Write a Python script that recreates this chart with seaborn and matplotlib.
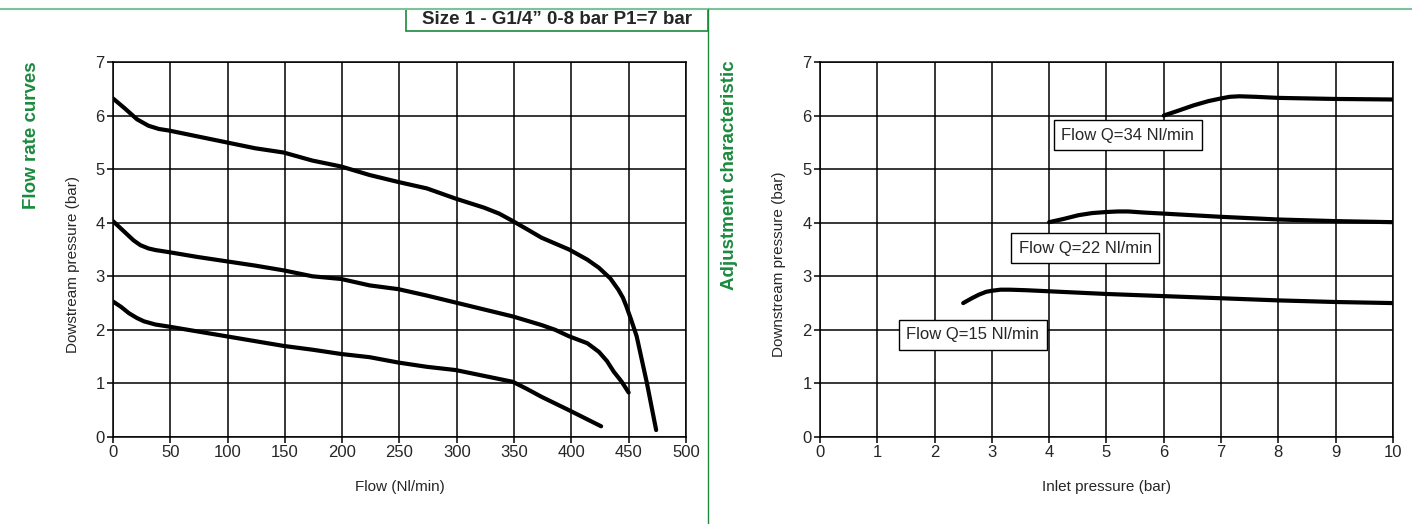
import pandas as pd
import matplotlib.pyplot as plt
import seaborn as sns
from matplotlib.lines import Line2D
from matplotlib.patches import Rectangle

# flow rate curves (downstream pressure vs flow)
flow_hi = [0, 10, 21, 31, 40, 49, 74, 99, 124, 149, 174, 199, 224, 249, 274, 299, 324, 337, 349, 362, 374, 386, 398, 414, 424, 434, 441, 445, 448, 452, 457, 466, 474]
pres_hi = [6.32, 6.14, 5.93, 5.81, 5.75, 5.72, 5.61, 5.50, 5.39, 5.31, 5.16, 5.05, 4.89, 4.76, 4.64, 4.45, 4.28, 4.17, 4.03, 3.87, 3.72, 3.61, 3.50, 3.31, 3.16, 2.96, 2.75, 2.60, 2.44, 2.20, 1.88, 1.00, 0.13]
flow_mid = [0, 5, 11, 18, 24, 31, 37, 49, 74, 99, 124, 149, 174, 199, 224, 249, 274, 299, 324, 349, 374, 386, 398, 414, 424, 431, 437, 444, 450]
pres_mid = [4.03, 3.93, 3.81, 3.67, 3.58, 3.52, 3.49, 3.45, 3.36, 3.28, 3.20, 3.11, 3.00, 2.95, 2.83, 2.76, 2.64, 2.51, 2.38, 2.25, 2.09, 2.00, 1.88, 1.75, 1.59, 1.42, 1.22, 1.03, 0.83]
flow_lo = [0, 7, 14, 21, 27, 37, 49, 74, 99, 124, 149, 174, 199, 224, 249, 274, 299, 324, 349, 361, 374, 398, 426]
pres_lo = [2.53, 2.43, 2.31, 2.22, 2.16, 2.10, 2.06, 1.97, 1.88, 1.79, 1.70, 1.63, 1.55, 1.49, 1.39, 1.31, 1.25, 1.14, 1.03, 0.90, 0.75, 0.50, 0.20]

# adjustment characteristic (downstream pressure vs inlet pressure)
inlet_34 = [6, 6.25, 6.52, 6.78, 7, 7.15, 7.32, 7.6, 8, 9, 10]
out_34 = [6.0, 6.09, 6.19, 6.27, 6.32, 6.35, 6.36, 6.35, 6.33, 6.31, 6.30]
inlet_22 = [4, 4.25, 4.51, 4.75, 5, 5.2, 5.38, 5.65, 6, 7, 8, 9, 10]
out_22 = [4.01, 4.07, 4.14, 4.18, 4.20, 4.21, 4.21, 4.19, 4.17, 4.11, 4.06, 4.03, 4.01]
inlet_15 = [2.5, 2.65, 2.78, 2.9, 3, 3.15, 3.31, 3.6, 4, 5, 6, 7, 8, 9, 10]
out_15 = [2.50, 2.59, 2.66, 2.71, 2.73, 2.75, 2.75, 2.74, 2.72, 2.67, 2.63, 2.59, 2.55, 2.52, 2.50]

labels_adj = ["Flow Q=34 Nl/min", "Flow Q=22 Nl/min", "Flow Q=15 Nl/min"]
label_pos = [(5.37, 5.63), (4.63, 3.52), (2.67, 1.91)]

sns.set_style("white")
plt.rcParams['font.family'] = ['Liberation Sans', 'DejaVu Sans']

green = "#1b8a3e"
light_green = "#7cc39a"

fig = plt.figure(figsize=(14.12, 5.24), dpi=100)
ax1 = fig.add_axes([0.080, 0.166, 0.4058, 0.7157])
ax2 = fig.add_axes([0.5807, 0.166, 0.4058, 0.7157])

curve_kw = dict(color="black", linewidth=3, sort=False, estimator=None,
                solid_capstyle="round", solid_joinstyle="round")

for fx, py in [(flow_hi, pres_hi), (flow_mid, pres_mid), (flow_lo, pres_lo)]:
    d = pd.DataFrame({"flow": fx, "p": py})
    sns.lineplot(data=d, x="flow", y="p", ax=ax1, **curve_kw)

for ix, oy in [(inlet_34, out_34), (inlet_22, out_22), (inlet_15, out_15)]:
    d = pd.DataFrame({"inlet": ix, "p": oy})
    sns.lineplot(data=d, x="inlet", y="p", ax=ax2, **curve_kw)

ax1.set_xlim(0, 500)
ax1.set_xticks(range(0, 501, 50))
ax2.set_xlim(0, 10)
ax2.set_xticks(range(0, 11))
for ax in (ax1, ax2):
    ax.set_ylim(0, 7)
    ax.set_yticks(range(0, 8))
    ax.grid(True, color="black", linewidth=1.1)
    ax.set_axisbelow(True)
    for s in ax.spines.values():
        s.set_color("black")
        s.set_linewidth(1.1)
    ax.tick_params(axis="both", direction="out", length=4, width=1.1, color="black",
                   labelsize=12, pad=2, left=True, bottom=True)

ax1.set_xlabel("Flow (Nl/min)", fontsize=11, labelpad=14)
ax1.set_ylabel("Dowstream pressure (bar)", fontsize=11)
ax2.set_xlabel("Inlet pressure (bar)", fontsize=11, labelpad=14)
ax2.set_ylabel("Downstream pressure (bar)", fontsize=11)
ax1.yaxis.set_label_coords(-0.058, 0.46)
ax2.yaxis.set_label_coords(-0.060, 0.46)

for txt, (lx, ly) in zip(labels_adj, label_pos):
    ax2.text(lx, ly, txt, ha="center", va="center", fontsize=12, zorder=5,
             bbox=dict(boxstyle="square,pad=0.45", fc="white", ec="black", lw=1))

# section decorations
fig.add_artist(Line2D([0, 1], [1 - 9 / 524] * 2, color=light_green, lw=1.5))
fig.add_artist(Line2D([708 / 1412] * 2, [0, 1 - 9 / 524], color=green, lw=1))
fig.add_artist(Rectangle((406 / 1412, 1 - 31 / 524), 302 / 1412, 22 / 524,
                         fill=False, ec=green, lw=1.2))
fig.text(557 / 1412, 1 - 20 / 524, "Size 1 - G1/4\u201d 0-8 bar P1=7 bar",
         ha="center", va="center", fontsize=13.5, fontweight="bold")
fig.text(32 / 1412, 1 - 135 / 524, "Flow rate curves", rotation=90, color=green,
         ha="center", va="center", fontsize=13.5, fontweight="bold")
fig.text(730 / 1412, 1 - 175 / 524, "Adjustment characteristic", rotation=90, color=green,
         ha="center", va="center", fontsize=13.5, fontweight="bold")

fig.savefig("out.png", dpi=100)
